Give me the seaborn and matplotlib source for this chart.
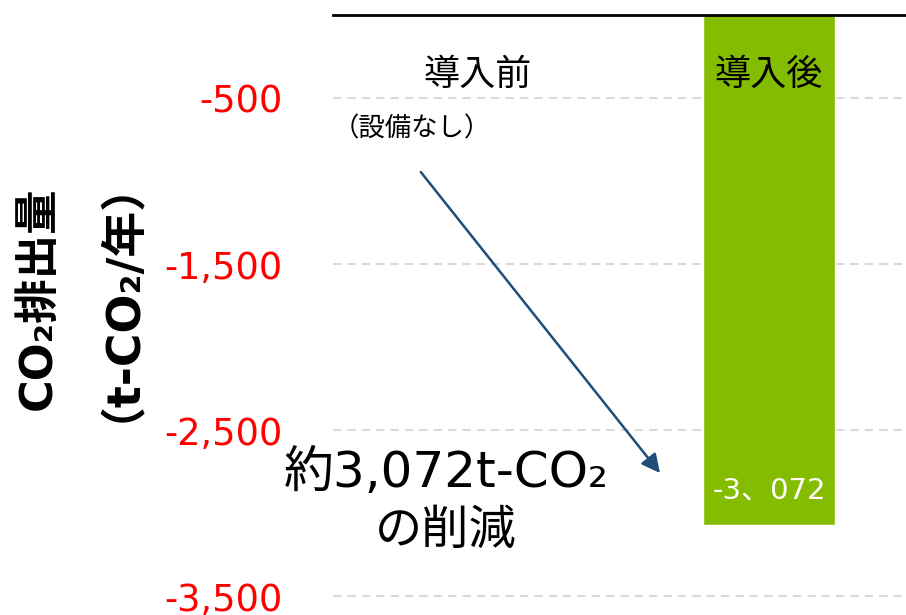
import matplotlib
matplotlib.use("Agg")
import matplotlib.pyplot as plt
import matplotlib.ticker as mticker
import pandas as pd
import seaborn as sns

# データ
categories = ["導入前", "導入後"]
emissions = [0, -3072]
value_labels = ["", "-3、072"]
y_ticks = [-500, -1500, -2500, -3500]
y_limits = (-3614, 0)

sns.set_theme(style="white")
plt.rcParams["font.family"] = ["DejaVu Sans", "Noto Sans CJK JP"]
plt.rcParams["text.color"] = "black"

df = pd.DataFrame({"category": categories, "value": emissions})

fig = plt.figure(figsize=(9.06, 6.15), dpi=100)
ax = fig.add_axes([0.3675, 0.0, 0.6325, 0.9756])

sns.barplot(data=df, x="category", y="value", color="#84bc00",
            width=0.454, saturation=1, ax=ax, zorder=3)

ax.set_xlim(-0.498, 1.471)
ax.set_ylim(*y_limits)
ax.set_xticks([])
ax.set_xlabel("")
ax.set_ylabel("")

ax.set_yticks(y_ticks)
ax.yaxis.set_major_formatter(mticker.FuncFormatter(lambda v, p: f"{v:,.0f}"))
ax.tick_params(axis="y", length=0, pad=36, labelsize=26.5, labelcolor="#ff0000")
ax.yaxis.grid(True, color="#d9d9d9", linestyle=(0, (4, 2.9)), linewidth=1.5, zorder=0)

for side in ["left", "right", "bottom"]:
    ax.spines[side].set_visible(False)
ax.spines["top"].set_color("black")
ax.spines["top"].set_linewidth(2)
ax.spines["top"].set_zorder(5)

# カテゴリ名
for i, cat in enumerate(categories):
    ax.text(i, -360, cat, ha="center", va="center", fontsize=26, zorder=4)

# 値ラベル
for i, (val, lab) in enumerate(zip(emissions, value_labels)):
    if lab:
        ax.annotate(lab, xy=(i, val), xytext=(0, 25), textcoords="offset points",
                    ha="center", va="center", fontsize=21, color="white", zorder=4)

ax.text(-0.498, -690, "（設備なし）", ha="left", va="center", fontsize=19)

# 削減量の矢印と注記
ax.annotate("", xy=(0.626, -2759), xytext=(-0.196, -946),
            arrowprops=dict(arrowstyle="-|>", color="#1f4e79", lw=1.8,
                            mutation_scale=28, shrinkA=0, shrinkB=0))
ax.text(-0.11, -2760, "約3,072t-CO₂", ha="center", va="center", fontsize=36)
ax.text(-0.11, -3110, "の削減", ha="center", va="center", fontsize=34)

# 縦軸タイトル
fig.text(38 / 906, 1 - 298 / 615, "CO₂排出量", rotation=90, ha="center", va="center",
         fontsize=32, fontweight="bold")
fig.text(98 / 906, 1 - 278 / 615, "（t-CO₂/年）", rotation=90, ha="center", va="center",
         fontsize=33, fontweight="bold")

fig.savefig("out.png", dpi=100)
